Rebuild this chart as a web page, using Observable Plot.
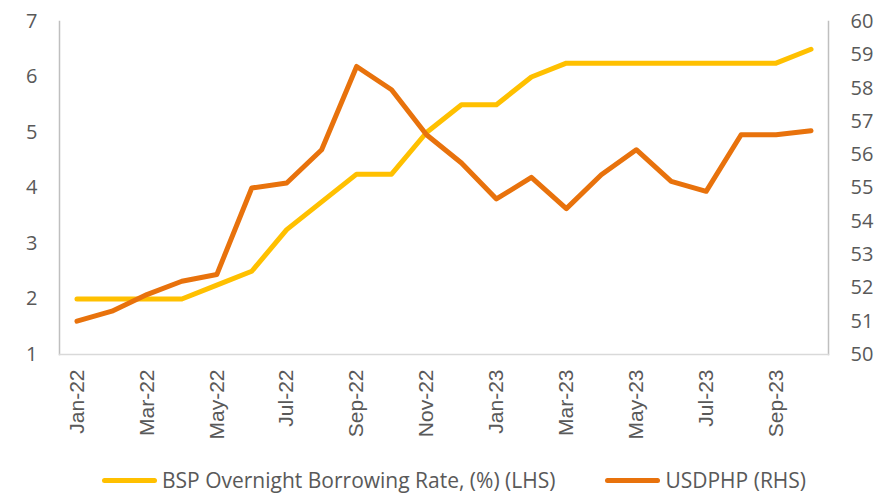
<!DOCTYPE html>
<html>
<head>
<meta charset="utf-8">
<script src="https://cdn.jsdelivr.net/npm/d3@7"></script>
<script src="https://cdn.jsdelivr.net/npm/@observablehq/plot@0.6"></script>
<style>
  html, body { margin: 0; padding: 0; background: #fff; }
  #chart svg { display: block; }
  .legend { display: flex; align-items: center; height: 26px; line-height: 26px; margin-top: 12px; font-family: "Open Sans", sans-serif; font-size: 21px; color: #595959; padding-left: 102px; }
  .sw { display: inline-block; width: 55px; height: 5px; border-radius: 3px; margin-right: 5px; }
  .item { display: flex; align-items: center; }
</style>
</head>
<body>
<div id="chart"></div>
<script>
const months = ["Jan-22","Feb-22","Mar-22","Apr-22","May-22","Jun-22","Jul-22","Aug-22","Sep-22","Oct-22","Nov-22","Dec-22",
                "Jan-23","Feb-23","Mar-23","Apr-23","May-23","Jun-23","Jul-23","Aug-23","Sep-23","Oct-23"];
const bsp = [2, 2, 2, 2, 2.25, 2.5, 3.25, 3.75, 4.25, 4.25, 5.0, 5.5,
             5.5, 6.0, 6.25, 6.25, 6.25, 6.25, 6.25, 6.25, 6.25, 6.5];
const usdphp = [51.0, 51.3, 51.8, 52.2, 52.4, 55.0, 55.15, 56.15, 58.65, 57.95, 56.6, 55.75,
                54.67, 55.32, 54.38, 55.4, 56.15, 55.2, 54.9, 56.6, 56.6, 56.72];
const leftTicks = [1, 2, 3, 4, 5, 6, 7];
const rightTicks = [50, 51, 52, 53, 54, 55, 56, 57, 58, 59, 60];
const xTickIdx = months.map((d, i) => i).filter(i => i % 2 === 0);
const bspLabel = "BSP Overnight Borrowing Rate, (%) (LHS)";
const fxLabel = "USDPHP (RHS)";
const yellow = "#FFC000";
const orange = "#E8720C";

// map right-hand values onto the left scale
const toLeft = v => 1 + (v - 50) * 0.6;
const fromLeft = d => String(Math.round(50 + (d - 1) / 0.6));

const rows = months.map((m, i) => ({i, month: m, bsp: bsp[i], fx: toLeft(usdphp[i])}));

const plot = Plot.plot({
  width: 875,
  height: 455,
  marginLeft: 59,
  marginRight: 47,
  marginTop: 21,
  marginBottom: 101,
  style: {fontFamily: "Open Sans, sans-serif", color: "#595959", background: "#fff"},
  x: {domain: [-0.5, months.length - 0.5]},
  y: {domain: [1, 7]},
  marks: [
    Plot.frame({anchor: "left", stroke: "#BFBFBF", strokeWidth: 1.5}),
    Plot.frame({anchor: "right", stroke: "#BFBFBF", strokeWidth: 1.5}),
    Plot.frame({anchor: "bottom", stroke: "#D9D9D9", strokeWidth: 1.5}),
    Plot.axisY(leftTicks, {anchor: "left", tickSize: 0, tickPadding: 22, fontSize: 20, fill: "#595959", label: null, tickFormat: d => String(d)}),
    Plot.axisY(rightTicks.map(toLeft), {anchor: "right", tickSize: 0, tickPadding: 22, fontSize: 20, fill: "#595959", label: null, tickFormat: fromLeft}),
    Plot.axisX(xTickIdx, {tickSize: 0, tickPadding: 15, tickRotate: -90, fontSize: 21, fill: "#595959", label: null, fontFamily: "Liberation Sans, Arial, sans-serif", tickFormat: i => months[i]}),
    Plot.line(rows, {x: "i", y: "bsp", stroke: yellow, strokeWidth: 5, strokeLinejoin: "round", strokeLinecap: "round"}),
    Plot.line(rows, {x: "i", y: "fx", stroke: orange, strokeWidth: 5, strokeLinejoin: "round", strokeLinecap: "round"})
  ]
});

const chart = document.getElementById("chart");
chart.appendChild(plot);

const legend = document.createElement("div");
legend.className = "legend";
[[bspLabel, yellow], [fxLabel, orange]].forEach(([label, color], i) => {
  const item = document.createElement("span");
  item.className = "item";
  if (i > 0) item.style.marginLeft = "50px";
  const sw = document.createElement("span");
  sw.className = "sw";
  sw.style.background = color;
  const t = document.createElement("span");
  t.textContent = label;
  item.appendChild(sw);
  item.appendChild(t);
  legend.appendChild(item);
});
chart.appendChild(legend);
</script>
</body>
</html>
